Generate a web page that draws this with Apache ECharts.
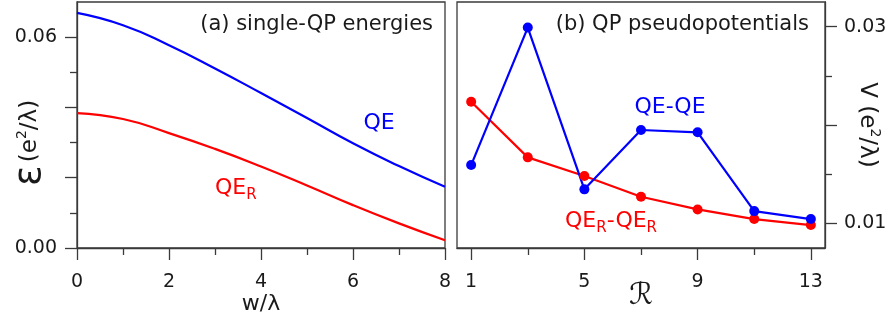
<!DOCTYPE html>
<html><head><meta charset="utf-8">
<script src="https://cdn.jsdelivr.net/npm/echarts@6/dist/echarts.min.js"></script>
<style>html,body{margin:0;padding:0;background:#fff}#c{width:890px;height:323px}</style>
</head><body><div id="c"></div>
<script>
// ---- data ----
const wValues = [0, 1, 2, 3, 4, 5, 6, 7, 8];
const qeEnergy = [0.0669, 0.0634, 0.0577, 0.0511, 0.0441, 0.0370, 0.0298, 0.0233, 0.0174];
const qerEnergy = [0.0384, 0.0367, 0.0327, 0.0282, 0.0232, 0.0178, 0.0122, 0.0070, 0.0022];
const rValues = [1, 3, 5, 7, 9, 11, 13];
const qeqePseudo = [0.01593, 0.0299, 0.01346, 0.01949, 0.01926, 0.01125, 0.01044];
const qerqerPseudo = [0.02237, 0.01671, 0.01481, 0.01271, 0.01142, 0.01044, 0.00983];
// ---- ticks ----
const leftXMajorTicks = [0, 2, 4, 6, 8];
const leftXMinorTicks = [1, 3, 5, 7];
const leftYMajorTicks = [0, 0.02, 0.04, 0.06];
const leftYMinorTicks = [0.01, 0.03, 0.05];
const leftYLabels = [0, 0.06];
const rightXMajorTicks = [1, 5, 9, 13];
const rightXMinorTicks = [3, 7, 11];
const rightYMajorTicks = [0.01, 0.02, 0.03];
const rightYMinorTicks = [0.015, 0.025];
const rightYLabels = [0.01, 0.03];

const FONT = 'DejaVu Sans';
const AX = '#3a3a3a';
const TXT = '#1a1a1a';
const BLUE = '#0000ff';
const RED = '#ff0000';

function majorAxis(o) {
  return Object.assign({
    type: 'value',
    nameMoveOverlap: false,
    axisLine: {show: true, onZero: false, lineStyle: {color: AX, width: 1.3}},
    axisTick: {show: true, inside: false, length: 12, customValues: o.ticks, lineStyle: {color: AX, width: 1.3}},
    axisLabel: {show: true, customValues: o.labels, fontFamily: FONT, fontSize: 19, color: TXT, margin: o.margin,
                formatter: o.fmt},
    splitLine: {show: false},
    nameTextStyle: {fontFamily: FONT, color: TXT}
  }, o.extra);
}
function minorAxis(o) {
  return Object.assign({
    type: 'value',
    axisLine: {show: false, onZero: false},
    axisTick: {show: true, inside: false, length: 7, customValues: o.ticks, lineStyle: {color: AX, width: 1.3}},
    axisLabel: {show: false},
    splitLine: {show: false}
  }, o.extra);
}

const chart = echarts.init(document.getElementById('c'), null, {renderer: 'canvas'});
function nameRich(size) {
  return {
    t: {fontFamily: FONT, fontSize: size, color: TXT, verticalAlign: 'middle', lineHeight: 30},
    e: {fontFamily: FONT, fontSize: 38, color: TXT, verticalAlign: 'middle', lineHeight: 30},
    s: {fontFamily: FONT, fontSize: 14, color: TXT, verticalAlign: 'top', lineHeight: 14}
  };
}
chart.setOption({
  animation: false,
  backgroundColor: '#fff',
  grid: [
    {left: 77, right: 445, top: 2, bottom: 75, show: true, borderColor: AX, borderWidth: 1.3, containLabel: false, outerBoundsMode: 'none'},
    {left: 457, right: 65, top: 2, bottom: 75, show: true, borderColor: AX, borderWidth: 1.3, containLabel: false, outerBoundsMode: 'none'}
  ],
  xAxis: [
    majorAxis({ticks: leftXMajorTicks, labels: leftXMajorTicks, margin: 25, extra: {
      gridIndex: 0, position: 'bottom', min: 0, max: 8,
      name: 'w/λ', nameLocation: 'middle', nameGap: 45,
      nameTextStyle: {fontFamily: FONT, fontSize: 22, color: TXT}}}),
    minorAxis({ticks: leftXMinorTicks, extra: {gridIndex: 0, position: 'bottom', min: 0, max: 8}}),
    majorAxis({ticks: rightXMajorTicks, labels: rightXMajorTicks, margin: 25, extra: {
      gridIndex: 1, position: 'bottom', min: 0.5, max: 13.5,
      name: 'ℛ', nameLocation: 'middle', nameGap: 33,
      nameTextStyle: {fontFamily: FONT, fontSize: 30, color: TXT}}}),
    minorAxis({ticks: rightXMinorTicks, extra: {gridIndex: 1, position: 'bottom', min: 0.5, max: 13.5}})
  ],
  yAxis: [
    majorAxis({ticks: leftYMajorTicks, labels: leftYLabels, margin: 20, fmt: v => Number(v).toFixed(2), extra: {
      gridIndex: 0, position: 'left', min: 0, max: 0.07,
      name: '{e|ε} {t|(e}{s|2}{t|/λ)}', nameLocation: 'middle', nameGap: 32, nameRotate: 90,
      nameTextStyle: {rich: nameRich(23), padding: [0, 36, 0, 0]}}}),
    minorAxis({ticks: leftYMinorTicks, extra: {gridIndex: 0, position: 'left', min: 0, max: 0.07}}),
    majorAxis({ticks: rightYMajorTicks, labels: rightYLabels, margin: 19, fmt: v => Number(v).toFixed(2), extra: {
      gridIndex: 1, position: 'right', min: 0.0075, max: 0.0325,
      name: '{t|V (e}{s|2}{t|/λ)}', nameLocation: 'middle', nameGap: 27, nameRotate: -90,
      nameTextStyle: {rich: nameRich(23)}}}),
    minorAxis({ticks: rightYMinorTicks, extra: {gridIndex: 1, position: 'right', min: 0.0075, max: 0.0325}})
  ],
  series: [
    {type: 'line', xAxisIndex: 0, yAxisIndex: 0, smooth: 0.5, symbol: 'none',
     lineStyle: {color: BLUE, width: 2.2}, data: wValues.map((w, i) => [w, qeEnergy[i]])},
    {type: 'line', xAxisIndex: 0, yAxisIndex: 0, smooth: 0.5, symbol: 'none',
     lineStyle: {color: RED, width: 2.2}, data: wValues.map((w, i) => [w, qerEnergy[i]])},
    {type: 'line', xAxisIndex: 2, yAxisIndex: 2, symbol: 'circle', symbolSize: 10,
     lineStyle: {color: RED, width: 2.2}, itemStyle: {color: RED},
     data: rValues.map((r, i) => [r, qerqerPseudo[i]])},
    {type: 'line', xAxisIndex: 2, yAxisIndex: 2, symbol: 'circle', symbolSize: 10,
     lineStyle: {color: BLUE, width: 2.2}, itemStyle: {color: BLUE},
     data: rValues.map((r, i) => [r, qeqePseudo[i]])}
  ],
  graphic: [
    {type: 'text', x: 433, y: 25, style: {text: '(a) single-QP energies', fill: TXT, font: '21px "DejaVu Sans"', align: 'right', verticalAlign: 'middle'}},
    {type: 'text', x: 809, y: 25, style: {text: '(b) QP pseudopotentials', fill: TXT, font: '21px "DejaVu Sans"', align: 'right', verticalAlign: 'middle'}},
    {type: 'text', x: 379, y: 123, style: {text: 'QE', fill: BLUE, font: '22px "DejaVu Sans"', align: 'center', verticalAlign: 'middle'}},
    {type: 'text', x: 670, y: 107, style: {text: 'QE-QE', fill: BLUE, font: '22px "DejaVu Sans"', align: 'center', verticalAlign: 'middle'}},
    {type: 'text', x: 215, y: 188, style: {text: '{m|QE}{s|R}', align: 'left', verticalAlign: 'middle',
      rich: {m: {fontFamily: FONT, fontSize: 22, fill: RED, color: RED, lineHeight: 30, verticalAlign: 'middle'},
             s: {fontFamily: FONT, fontSize: 15, fill: RED, color: RED, lineHeight: 15, verticalAlign: 'bottom'}}}},
    {type: 'text', x: 565, y: 221, style: {text: '{m|QE}{s|R}{m|-QE}{s|R}', align: 'left', verticalAlign: 'middle',
      rich: {m: {fontFamily: FONT, fontSize: 22, fill: RED, color: RED, lineHeight: 30, verticalAlign: 'middle'},
             s: {fontFamily: FONT, fontSize: 15, fill: RED, color: RED, lineHeight: 15, verticalAlign: 'bottom'}}}}
  ]
});
</script></body></html>
